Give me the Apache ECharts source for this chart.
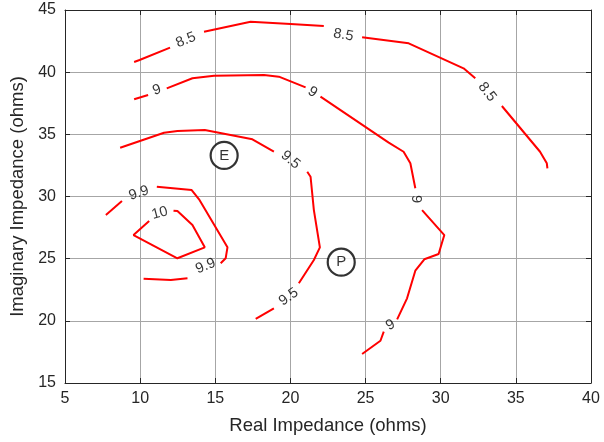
<!DOCTYPE html>
<html>
<head>
<meta charset="utf-8">
<script src="https://cdn.jsdelivr.net/npm/echarts@6/dist/echarts.min.js"></script>
<style>
  html, body { margin: 0; padding: 0; background: #fff; }
  #chart { width: 604px; height: 442px; }
</style>
</head>
<body>
<div id="chart"></div>
<script>
// contour lines, each one split into pieces where the label sits
const contour85 = [
  [[9.60, 40.82], [9.96, 40.98], [11.99, 41.97]],
  [[14.25, 43.25], [17.35, 44.06], [20.01, 43.87], [22.22, 43.71]],
  [[24.77, 42.80], [27.87, 42.32], [31.52, 40.31], [32.30, 39.51]],
  [[34.07, 37.28], [36.61, 33.60], [37.06, 32.67], [37.10, 32.27]]
];
const contour9 = [
  [[9.60, 37.82], [10.53, 38.16]],
  [[11.77, 38.70], [13.48, 39.51], [14.92, 39.72], [18.24, 39.77], [19.23, 39.64], [21.01, 38.78]],
  [[22.00, 38.03], [26.54, 34.33], [27.53, 33.60], [27.98, 32.67], [28.31, 30.66]],
  [[28.76, 28.91], [30.24, 26.90], [29.86, 25.38], [28.91, 24.95], [28.31, 24.03], [27.76, 21.81], [27.10, 20.12]],
  [[26.21, 19.13], [25.99, 18.40], [24.77, 17.33]]
];
const contour95 = [
  [[8.67, 33.92], [11.59, 35.13], [12.48, 35.27], [14.30, 35.35], [17.47, 34.60], [18.90, 33.60]],
  [[21.12, 31.99], [21.34, 31.59], [21.56, 28.91], [21.96, 25.91], [21.56, 24.89], [20.56, 23.02]],
  [[18.90, 21.01], [17.69, 20.15]]
];
const contour99 = [
  [[7.72, 28.51], [8.79, 29.64]],
  [[11.11, 30.79], [13.43, 30.52], [13.92, 29.77], [15.81, 25.91], [15.69, 25.03], [15.36, 24.63]],
  [[13.15, 23.42], [12.04, 23.28], [10.23, 23.39]]
];
const contour10 = [
  [[12.22, 28.86], [12.48, 28.83], [13.48, 27.71], [14.30, 25.91], [12.48, 25.03], [9.56, 26.90], [10.60, 28.03]]
];

// contour labels: [x, y, text, angle]
const contourLabels = [
  [13.04, 42.59, '8.5', 22],
  [23.53, 42.99, '8.5', -10],
  [33.09, 38.40, '8.5', -52],
  [11.11, 38.57, '9', 18],
  [21.47, 38.40, '9', -33],
  [28.38, 29.80, '9', -90],
  [26.65, 19.66, '9', 30],
  [20.01, 32.94, '9.5', -40],
  [19.88, 21.92, '9.5', 35],
  [9.91, 30.28, '9.9', 18],
  [14.36, 24.41, '9.9', 22],
  [11.31, 28.67, '10', 15]
];

// marked points
const markers = [
  [15.59, 33.30, 'E'],
  [23.38, 24.72, 'P']
];

const xTicks = [5, 40, 5];
const yTicks = [15, 45, 5];

const font = 'Liberation Sans, Arial, sans-serif';

const series = [];
[contour85, contour9, contour95, contour99, contour10].forEach(c => {
  c.forEach(seg => {
    series.push({
      type: 'line',
      data: seg,
      symbol: 'none',
      silent: true,
      lineStyle: { color: '#ff0000', width: 2 },
      z: 3
    });
  });
});

contourLabels.forEach(l => {
  series.push({
    type: 'scatter',
    data: [[l[0], l[1]]],
    symbolSize: 0,
    silent: true,
    itemStyle: { color: '#000' },
    label: {
      show: true,
      position: 'inside',
      formatter: l[2],
      rotate: l[3],
      color: '#000',
      textBorderWidth: 0,
      fontFamily: font,
      fontSize: 14.5
    },
    z: 4
  });
});

series.push({
  type: 'scatter',
  data: markers.map(m => [m[0], m[1], m[2]]),
  symbol: 'circle',
  symbolSize: 27,
  silent: true,
  itemStyle: { color: '#fff', borderColor: '#000', borderWidth: 2.2 },
  label: {
    show: true,
    position: 'inside',
    formatter: p => p.data[2],
    color: '#000',
    textBorderWidth: 0,
    fontFamily: font,
    fontSize: 15
  },
  z: 5
});

const boxAxis = {
  axisLine: { show: true, lineStyle: { color: '#262626', width: 1 } },
  axisTick: { show: true, inside: true, length: 5, lineStyle: { color: '#262626' } },
  axisLabel: { show: false },
  splitLine: { show: false }
};

const option = {
  animation: false,
  backgroundColor: '#fff',
  grid: { left: 64, right: 13, top: 10, bottom: 59 },
  xAxis: [
    {
      type: 'value',
      min: xTicks[0], max: xTicks[1], interval: xTicks[2],
      name: 'Real Impedance (ohms)',
      nameLocation: 'middle',
      nameGap: 33,
      nameTextStyle: { color: '#262626', fontFamily: font, fontSize: 18.5 },
      axisLine: { show: true, lineStyle: { color: '#262626', width: 1 } },
      axisTick: { show: true, inside: true, length: 5, lineStyle: { color: '#262626' } },
      axisLabel: { color: '#262626', fontFamily: font, fontSize: 16, margin: 8 },
      splitLine: { show: true, lineStyle: { color: '#a6a6a6', width: 1 } }
    },
    Object.assign({ type: 'value', position: 'top', min: xTicks[0], max: xTicks[1], interval: xTicks[2] }, boxAxis)
  ],
  yAxis: [
    {
      type: 'value',
      min: yTicks[0], max: yTicks[1], interval: yTicks[2],
      name: 'Imaginary Impedance (ohms)',
      nameLocation: 'middle',
      nameGap: 38,
      nameTextStyle: { color: '#262626', fontFamily: font, fontSize: 18.5 },
      axisLine: { show: true, lineStyle: { color: '#262626', width: 1 } },
      axisTick: { show: true, inside: true, length: 5, lineStyle: { color: '#262626' } },
      axisLabel: { color: '#262626', fontFamily: font, fontSize: 16, margin: 9 },
      splitLine: { show: true, lineStyle: { color: '#a6a6a6', width: 1 } }
    },
    Object.assign({ type: 'value', position: 'right', min: yTicks[0], max: yTicks[1], interval: yTicks[2] }, boxAxis)
  ],
  series: series
};

const chart = echarts.init(document.getElementById('chart'));
chart.setOption(option);
</script>
</body>
</html>
